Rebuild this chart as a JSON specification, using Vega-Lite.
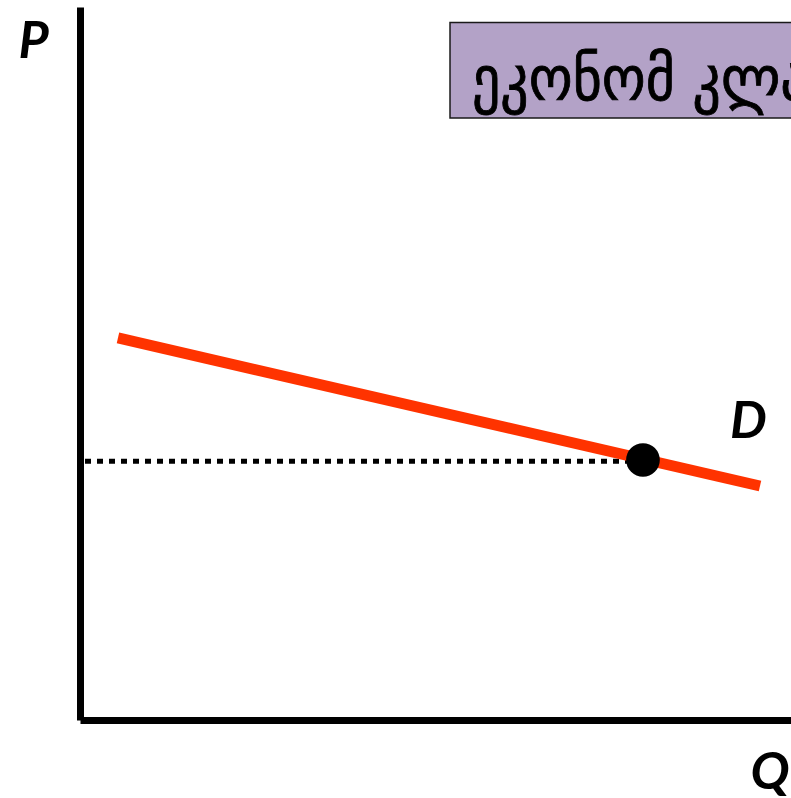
{
  "$schema": "https://vega.github.io/schema/vega-lite/v6.json",
  "width": 711,
  "height": 713,
  "autosize": {"type": "none"},
  "padding": {"left": 80, "top": 7, "right": 0, "bottom": 78},
  "background": "white",
  "config": {"view": {"stroke": null}},
  "encoding": {
    "x": {
      "field": "Q", "type": "quantitative",
      "scale": {"domain": [0, 10], "nice": false, "zero": false},
      "axis": {
        "title": "Q", "domainWidth": 7, "domainColor": "black", "ticks": false, "labels": false, "grid": false,
        "titleFont": "Lato", "titleFontSize": 52, "titleFontStyle": "italic", "titleFontWeight": "bold", "titleColor": "black",
        "titleX": 670, "titleY": 68, "titleAlign": "left", "titleBaseline": "alphabetic", "titleAnchor": null
      }
    },
    "y": {
      "field": "P", "type": "quantitative",
      "scale": {"domain": [0, 10], "nice": false, "zero": false},
      "axis": {
        "title": "P", "domainWidth": 7, "domainColor": "black", "ticks": false, "labels": false, "grid": false,
        "titleFont": "Lato", "titleFontSize": 52, "titleFontStyle": "italic", "titleFontWeight": "bold", "titleColor": "black",
        "titleAngle": 0, "titleX": -62, "titleY": 50, "titleAlign": "left", "titleBaseline": "alphabetic", "titleAnchor": null
      }
    }
  },
  "layer": [
    {
      "data": {"values": [{"Q": 0, "P": 3.63}, {"Q": 7.9, "P": 3.63}]},
      "mark": {"type": "line", "color": "black", "strokeWidth": 5, "strokeDash": [6, 6], "strokeDashOffset": 7, "strokeCap": "butt"}
    },
    {
      "data": {"values": [{"Q": 0.534, "P": 5.358}, {"Q": 9.564, "P": 3.282}]},
      "mark": {"type": "line", "color": "#FF3300", "strokeWidth": 11, "strokeCap": "butt"}
    },
    {
      "data": {"values": [{"Q": 7.918, "P": 3.647}]},
      "mark": {"type": "point", "filled": true, "color": "black", "opacity": 1, "size": 1134}
    },
    {
      "data": {"values": [{"Q": 9.142, "P": 3.955, "label": "D"}]},
      "mark": {"type": "text", "font": "Lato", "fontSize": 52, "fontStyle": "italic", "fontWeight": "bold", "color": "black", "align": "left", "baseline": "alphabetic"},
      "encoding": {"text": {"field": "label"}}
    },
    {
      "data": {"values": [{"Q": 5.204, "Q2": 10.8, "P": 8.443, "P2": 9.783}]},
      "mark": {"type": "rect", "fill": "#B3A2C7", "stroke": "#1a1a1a", "strokeWidth": 1.5, "clip": false},
      "encoding": {"x2": {"field": "Q2"}, "y2": {"field": "P2"}}
    },
    {
      "data": {"values": [{"Q": 5.513, "P": 8.696, "label": "ეკონომ კლასი"}]},
      "mark": {"type": "text", "font": "DejaVu Sans Condensed", "fontSize": 62, "color": "black", "align": "left", "baseline": "alphabetic", "stroke": "black", "strokeWidth": 0.8}
    ,
      "encoding": {"text": {"field": "label"}}
    }
  ]
}
